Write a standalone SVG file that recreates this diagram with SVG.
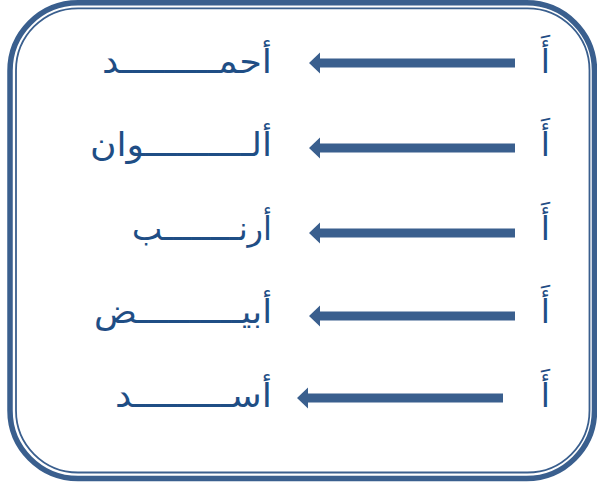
<svg xmlns="http://www.w3.org/2000/svg" width="597" height="485" viewBox="0 0 597 485">
  <defs>
    <style>
      .frame-thick { fill: none; stroke: #3a5f8e; stroke-width: 5.5; }
      .frame-thin { fill: none; stroke: #3a5f8e; stroke-width: 1.8; }
      .arrow { fill: #3a5f8e; }
      .word { font-family: "DejaVu Sans", "Liberation Sans", sans-serif; font-size: 33px; fill: #1f4e85; text-anchor: end; }
    </style>
    <polygon id="arr" points="0,0 11,-10.5 11,-4.5 206,-4.5 206,4.5 11,4.5 11,10.5"/>
  </defs>
  <rect width="597" height="485" fill="#ffffff"/>
  <g id="frame">
    <rect class="frame-thick" x="10" y="2.8" width="584.5" height="475.7" rx="68" ry="68"/>
    <rect class="frame-thin" x="16" y="8.3" width="573.5" height="464.2" rx="62" ry="62"/>
  </g>
  <g id="connectors">
    <use href="#arr" class="arrow" x="309" y="63"/>
    <use href="#arr" class="arrow" x="309" y="148"/>
    <use href="#arr" class="arrow" x="309" y="233"/>
    <use href="#arr" class="arrow" x="309" y="316"/>
    <use href="#arr" class="arrow" x="297" y="398"/>
  </g>
  <g id="row1-src"><text class="word" x="550" y="73">أَ</text></g>
  <g id="row2-src"><text class="word" x="550" y="156">أَ</text></g>
  <g id="row3-src"><text class="word" x="550" y="240">أَ</text></g>
  <g id="row4-src"><text class="word" x="550" y="323">أَ</text></g>
  <g id="row5-src"><text class="word" x="550" y="407">أَ</text></g>
  <g id="row1-word"><text class="word" x="272" y="73" textLength="170" lengthAdjust="spacingAndGlyphs">أحمـــــــــد</text></g>
  <g id="row2-word"><text class="word" x="272" y="156" textLength="182" lengthAdjust="spacingAndGlyphs">ألــــــــــوان</text></g>
  <g id="row3-word"><text class="word" x="272" y="240" textLength="140" lengthAdjust="spacingAndGlyphs">أرنــــــــب</text></g>
  <g id="row4-word"><text class="word" x="272" y="323" textLength="178" lengthAdjust="spacingAndGlyphs">أبيــــــــــض</text></g>
  <g id="row5-word"><text class="word" x="272" y="407" textLength="157" lengthAdjust="spacingAndGlyphs">أســـــــــد</text></g>
</svg>
